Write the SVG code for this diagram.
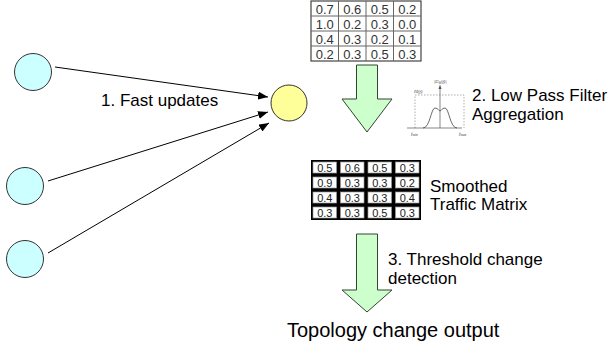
<svg xmlns="http://www.w3.org/2000/svg" width="616" height="347" viewBox="0 0 616 347">
<style>
.lbl{font-family:"Liberation Sans",Arial,sans-serif;font-size:17px;fill:#000}
.big{font-family:"Liberation Sans",Arial,sans-serif;font-size:20px;fill:#000}
.cellA{font-family:"Liberation Sans",Arial,sans-serif;font-size:13px;fill:#333;text-anchor:middle}
.cellB{font-family:"Liberation Sans",Arial,sans-serif;font-size:11px;fill:#222;text-anchor:middle}
.src{fill:#ccffff;stroke:#333;stroke-width:1}
.dst{fill:#ffff99;stroke:#333;stroke-width:1}
.blk{fill:#ccffcc;stroke:#334433;stroke-width:1}
.conn{stroke:#000;stroke-width:1;fill:none;marker-end:url(#ah)}
.gl{stroke:#666;stroke-width:1;fill:none}
.dash{stroke:#777;stroke-width:0.6;stroke-dasharray:1.5 1.5;fill:none}
.tiny{font-family:"Liberation Serif","Times New Roman",serif;font-size:5px;font-style:italic;fill:#333}
.cell{fill:#fff;stroke:#999;stroke-width:0.7}
</style>
<defs>
<marker id="ah" markerWidth="10" markerHeight="8" refX="10" refY="4" orient="auto" markerUnits="userSpaceOnUse">
<path d="M0,0 L10,4 L0,8 z" fill="#000"/>
</marker>
</defs>
<rect width="616" height="347" fill="#fff"/>

<g id="connectors">
<line class="conn" x1="55" y1="67" x2="268" y2="97"/>
<line class="conn" x1="48" y1="181" x2="268" y2="112"/>
<line class="conn" x1="48" y1="253" x2="269" y2="123"/>
</g>

<g id="node-src1"><circle class="src" cx="33" cy="72" r="18.5"/></g>
<g id="node-src2"><circle class="src" cx="25" cy="186" r="18.5"/></g>
<g id="node-src3"><circle class="src" cx="25" cy="259" r="18.5"/></g>
<g id="node-agg"><circle class="dst" cx="289" cy="103" r="18"/></g>

<g id="label-fast"><text class="lbl" x="101" y="106">1. Fast updates</text></g>

<g id="matrix-raw">
<rect x="311" y="1" width="110" height="60" fill="#fff" stroke="#444" stroke-width="1.2"/>
<path class="gl" d="M338.5,1V61M366,1V61M393.5,1V61M311,16H421M311,31H421M311,46H421"/>
<text class="cellA" x="324.8" y="13.5">0.7</text><text class="cellA" x="352.3" y="13.5">0.6</text><text class="cellA" x="379.8" y="13.5">0.5</text><text class="cellA" x="407.3" y="13.5">0.2</text>
<text class="cellA" x="324.8" y="28.5">1.0</text><text class="cellA" x="352.3" y="28.5">0.2</text><text class="cellA" x="379.8" y="28.5">0.3</text><text class="cellA" x="407.3" y="28.5">0.0</text>
<text class="cellA" x="324.8" y="43.5">0.4</text><text class="cellA" x="352.3" y="43.5">0.3</text><text class="cellA" x="379.8" y="43.5">0.2</text><text class="cellA" x="407.3" y="43.5">0.1</text>
<text class="cellA" x="324.8" y="58.5">0.2</text><text class="cellA" x="352.3" y="58.5">0.3</text><text class="cellA" x="379.8" y="58.5">0.5</text><text class="cellA" x="407.3" y="58.5">0.3</text>
</g>

<g id="arrow-filter"><polygon class="blk" points="356.5,65 377.5,65 377.5,99 392,99 367,132 342,99 356.5,99"/></g>

<g id="filter-plot">
<path class="dash" d="M415,128V95H464V128"/>
<path stroke="#555" stroke-width="0.7" fill="none" d="M407,128H462M440,128V87"/>
<path fill="#555" d="M438.5,89L440,84.5L441.5,89z"/>
<path stroke="#444" stroke-width="0.8" fill="none" d="M423,128C430,128 431,108 435,108C438,108 439,111 440,111C441,111 442,108 445,108C449,108 450,128 457,128"/>
<text class="tiny" x="434" y="83">|G<tspan font-size="3.5" dy="1">k</tspan><tspan dy="-1">(f)|</tspan></text>
<text class="tiny" x="414" y="93">H(f)</text>
<text class="tiny" x="411" y="135">f<tspan font-size="3.5" dy="1">min</tspan></text>
<text class="tiny" x="459" y="135">f<tspan font-size="3.5" dy="1">max</tspan></text>
</g>

<g id="label-lpf"><text class="lbl" x="472" y="101">2. Low Pass Filter</text><text class="lbl" x="472" y="120">Aggregation</text></g>

<g id="matrix-smooth">
<rect x="311" y="160" width="110" height="60" fill="#000"/>
<rect class="cell" x="313" y="162" width="23.5" height="11"/><rect class="cell" x="340.5" y="162" width="23.5" height="11"/><rect class="cell" x="368" y="162" width="23.5" height="11"/><rect class="cell" x="395.5" y="162" width="23.5" height="11"/>
<rect class="cell" x="313" y="177" width="23.5" height="11"/><rect class="cell" x="340.5" y="177" width="23.5" height="11"/><rect class="cell" x="368" y="177" width="23.5" height="11"/><rect class="cell" x="395.5" y="177" width="23.5" height="11"/>
<rect class="cell" x="313" y="192" width="23.5" height="11"/><rect class="cell" x="340.5" y="192" width="23.5" height="11"/><rect class="cell" x="368" y="192" width="23.5" height="11"/><rect class="cell" x="395.5" y="192" width="23.5" height="11"/>
<rect class="cell" x="313" y="207" width="23.5" height="11"/><rect class="cell" x="340.5" y="207" width="23.5" height="11"/><rect class="cell" x="368" y="207" width="23.5" height="11"/><rect class="cell" x="395.5" y="207" width="23.5" height="11"/>
<text class="cellB" x="324.8" y="171.5">0.5</text><text class="cellB" x="352.3" y="171.5">0.6</text><text class="cellB" x="379.8" y="171.5">0.5</text><text class="cellB" x="407.3" y="171.5">0.3</text>
<text class="cellB" x="324.8" y="186.5">0.9</text><text class="cellB" x="352.3" y="186.5">0.3</text><text class="cellB" x="379.8" y="186.5">0.3</text><text class="cellB" x="407.3" y="186.5">0.2</text>
<text class="cellB" x="324.8" y="201.5">0.4</text><text class="cellB" x="352.3" y="201.5">0.3</text><text class="cellB" x="379.8" y="201.5">0.3</text><text class="cellB" x="407.3" y="201.5">0.4</text>
<text class="cellB" x="324.8" y="216.5">0.3</text><text class="cellB" x="352.3" y="216.5">0.3</text><text class="cellB" x="379.8" y="216.5">0.5</text><text class="cellB" x="407.3" y="216.5">0.3</text>
</g>

<g id="label-smoothed"><text class="lbl" x="430" y="192">Smoothed</text><text class="lbl" x="430" y="210">Traffic Matrix</text></g>

<g id="arrow-threshold"><polygon class="blk" points="356.5,234 377.5,234 377.5,290 392,290 367,312 342,290 356.5,290"/></g>

<g id="label-threshold"><text class="lbl" x="388" y="265">3. Threshold change</text><text class="lbl" x="388" y="284">detection</text></g>

<g id="label-output"><text class="big" x="287" y="337">Topology change output</text></g>
</svg>
